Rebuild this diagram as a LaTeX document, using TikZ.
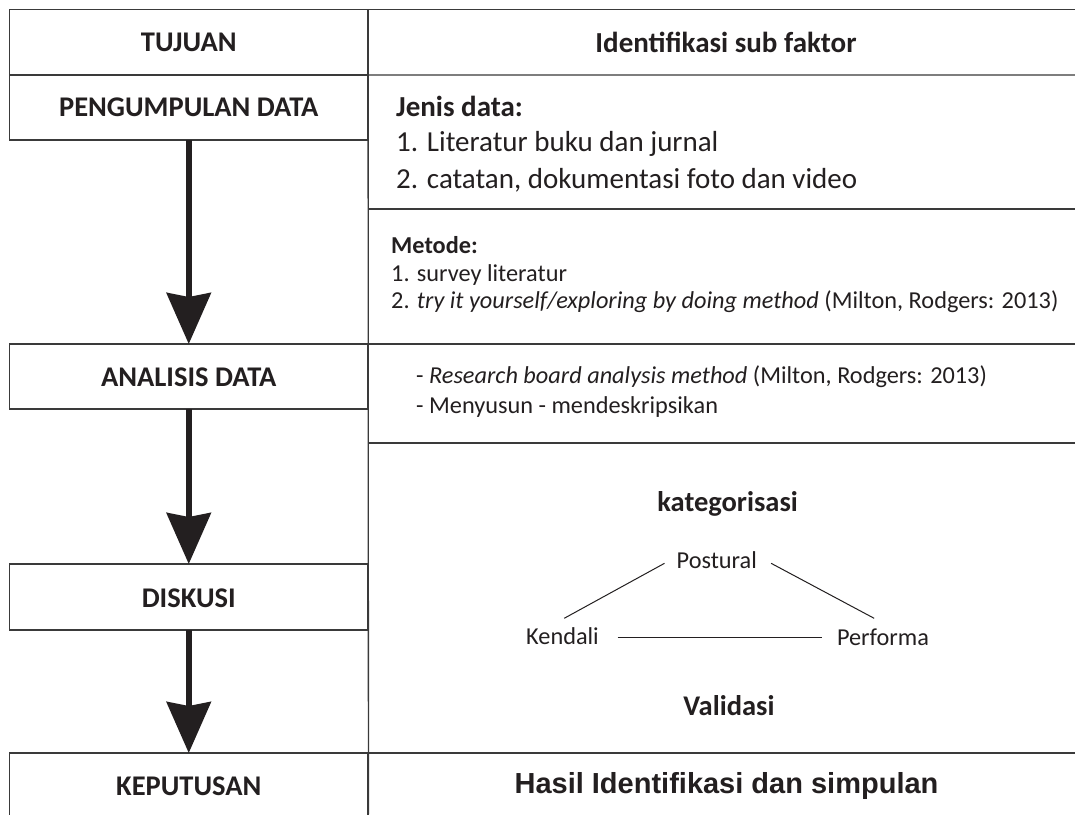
\documentclass[tikz,border=0pt]{standalone}
\usepackage{fontspec}
\setmainfont{Carlito}
\newfontfamily\arialfont{Liberation Sans}
\usetikzlibrary{arrows.meta}
\definecolor{ink}{HTML}{231F20}
\definecolor{rulec}{HTML}{3A3A3A}
\begin{document}
\begin{tikzpicture}[x=1pt,y=-1pt,
  tline/.style={draw=rulec, line width=1.3pt},
  boxnode/.style={draw=rulec, line width=1.3pt, rectangle, inner sep=0pt, outer sep=0pt, minimum width=358.6pt},
  lbl/.style={font=\fontsize{28.5}{30}\selectfont\bfseries, text=ink, anchor=base, inner sep=0pt},
  bigtxt/.style={font=\fontsize{29}{30}\selectfont, text=ink, anchor=base west, inner sep=0pt},
  midtxt/.style={font=\fontsize{24.3}{26}\selectfont, text=ink, anchor=base west, inner sep=0pt},
  tri/.style={draw=ink, line width=1pt},
  flow/.style={draw=ink, line width=6pt, -{Stealth[length=51pt,width=44pt,inset=4pt]}}
]
\fill[white] (0,0) rectangle (1075,814);
\useasboundingbox (0,0) rectangle (1075,814);
\clip (0,0) rectangle (1075,814);

% left column boxes
\node[boxnode, minimum height=65.7pt] (tuj) at (188.75,42.15) {};
\node[boxnode, minimum height=65pt] (pg) at (188.75,107.5) {};
\node[boxnode, minimum height=65pt] (an) at (188.75,376.5) {};
\node[boxnode, minimum height=66pt] (ds) at (188.75,597) {};
\node[boxnode, minimum height=90pt] (kp) at (188.75,798) {};

% table rules on the right side
\draw[tline] (tuj.north east) -- (1075,9.3);
\draw[tline] (tuj.south east) -- (1075,75);
\draw[tline] (368,209) -- (1075,209);
\draw[tline] (an.north east) -- (1075,344);
\draw[tline] (368,443) -- (1075,443);
\draw[tline] (kp.north east) -- (1075,753);
\draw[tline] (tuj.north east) -- (368.45,814);

% left labels
\node[lbl] (tujT) at (188.75,51.7) {TUJUAN};
\node[lbl] (pgT) at (188.75,116.7) {PENGUMPULAN DATA};
\node[lbl] (anT) at (188.75,386.7) {ANALISIS DATA};
\node[lbl] (dsT) at (188.75,607) {DISKUSI};
\node[lbl] (kpT) at (188.75,795) {KEPUTUSAN};

% flow arrows
\draw[flow] (pg.south) -- (an.north);
\draw[flow] (an.south) -- (ds.north);
\draw[flow] (ds.south) -- (kp.north);

% right column texts
\node[lbl, font=\fontsize{29}{30}\selectfont\bfseries] (title) at (726,52) {Identifikasi sub faktor};
\node[bigtxt, font=\fontsize{29}{30}\selectfont\bfseries] (jenis) at (396,116.7) {Jenis data:};
\node[bigtxt] (j1) at (396,151.7) {1. Literatur buku dan jurnal};
\node[bigtxt] (j2) at (396,188) {2. catatan, dokumentasi foto dan video};
\node[midtxt, font=\fontsize{24.3}{26}\selectfont\bfseries] (metode) at (391,253) {Metode:};
\node[midtxt] (m1) at (391,281) {1. survey literatur};
\node[midtxt] (m2) at (391,308) {2. \textit{try it yourself/exploring by doing method} (Milton, Rodgers: 2013)};
\node[midtxt] (r1) at (416,383) {- \textit{Research board analysis method} (Milton, Rodgers: 2013)};
\node[midtxt] (r2) at (416,413) {- Menyusun - mendeskripsikan};

\node[lbl] (kat) at (727.6,511.7) {kategorisasi};
\node[midtxt] (post) at (676.5,568) {Postural};
\node[midtxt] (ken) at (526,644.5) {Kendali};
\node[midtxt] (perf) at (836.8,645) {Performa};
\node[lbl] (val) at (729,715) {Validasi};

\draw[tri] ([xshift=-12pt,yshift=4.7pt]post.base west) -- ([xshift=1.7pt,yshift=26.2pt]ken.base);
\draw[tri] ([xshift=14pt,yshift=4.7pt]post.base east) -- ([xshift=-8.8pt,yshift=26.7pt]perf.base);
\draw[tri] ([xshift=18.7pt,yshift=7.2pt]ken.base east) -- ([xshift=-15.3pt,yshift=7.7pt]perf.base west);

\node[lbl, font=\arialfont\fontsize{29}{30}\selectfont\bfseries] (hasil) at (726.5,793) {Hasil Identifikasi dan simpulan};
\end{tikzpicture}
\end{document}
